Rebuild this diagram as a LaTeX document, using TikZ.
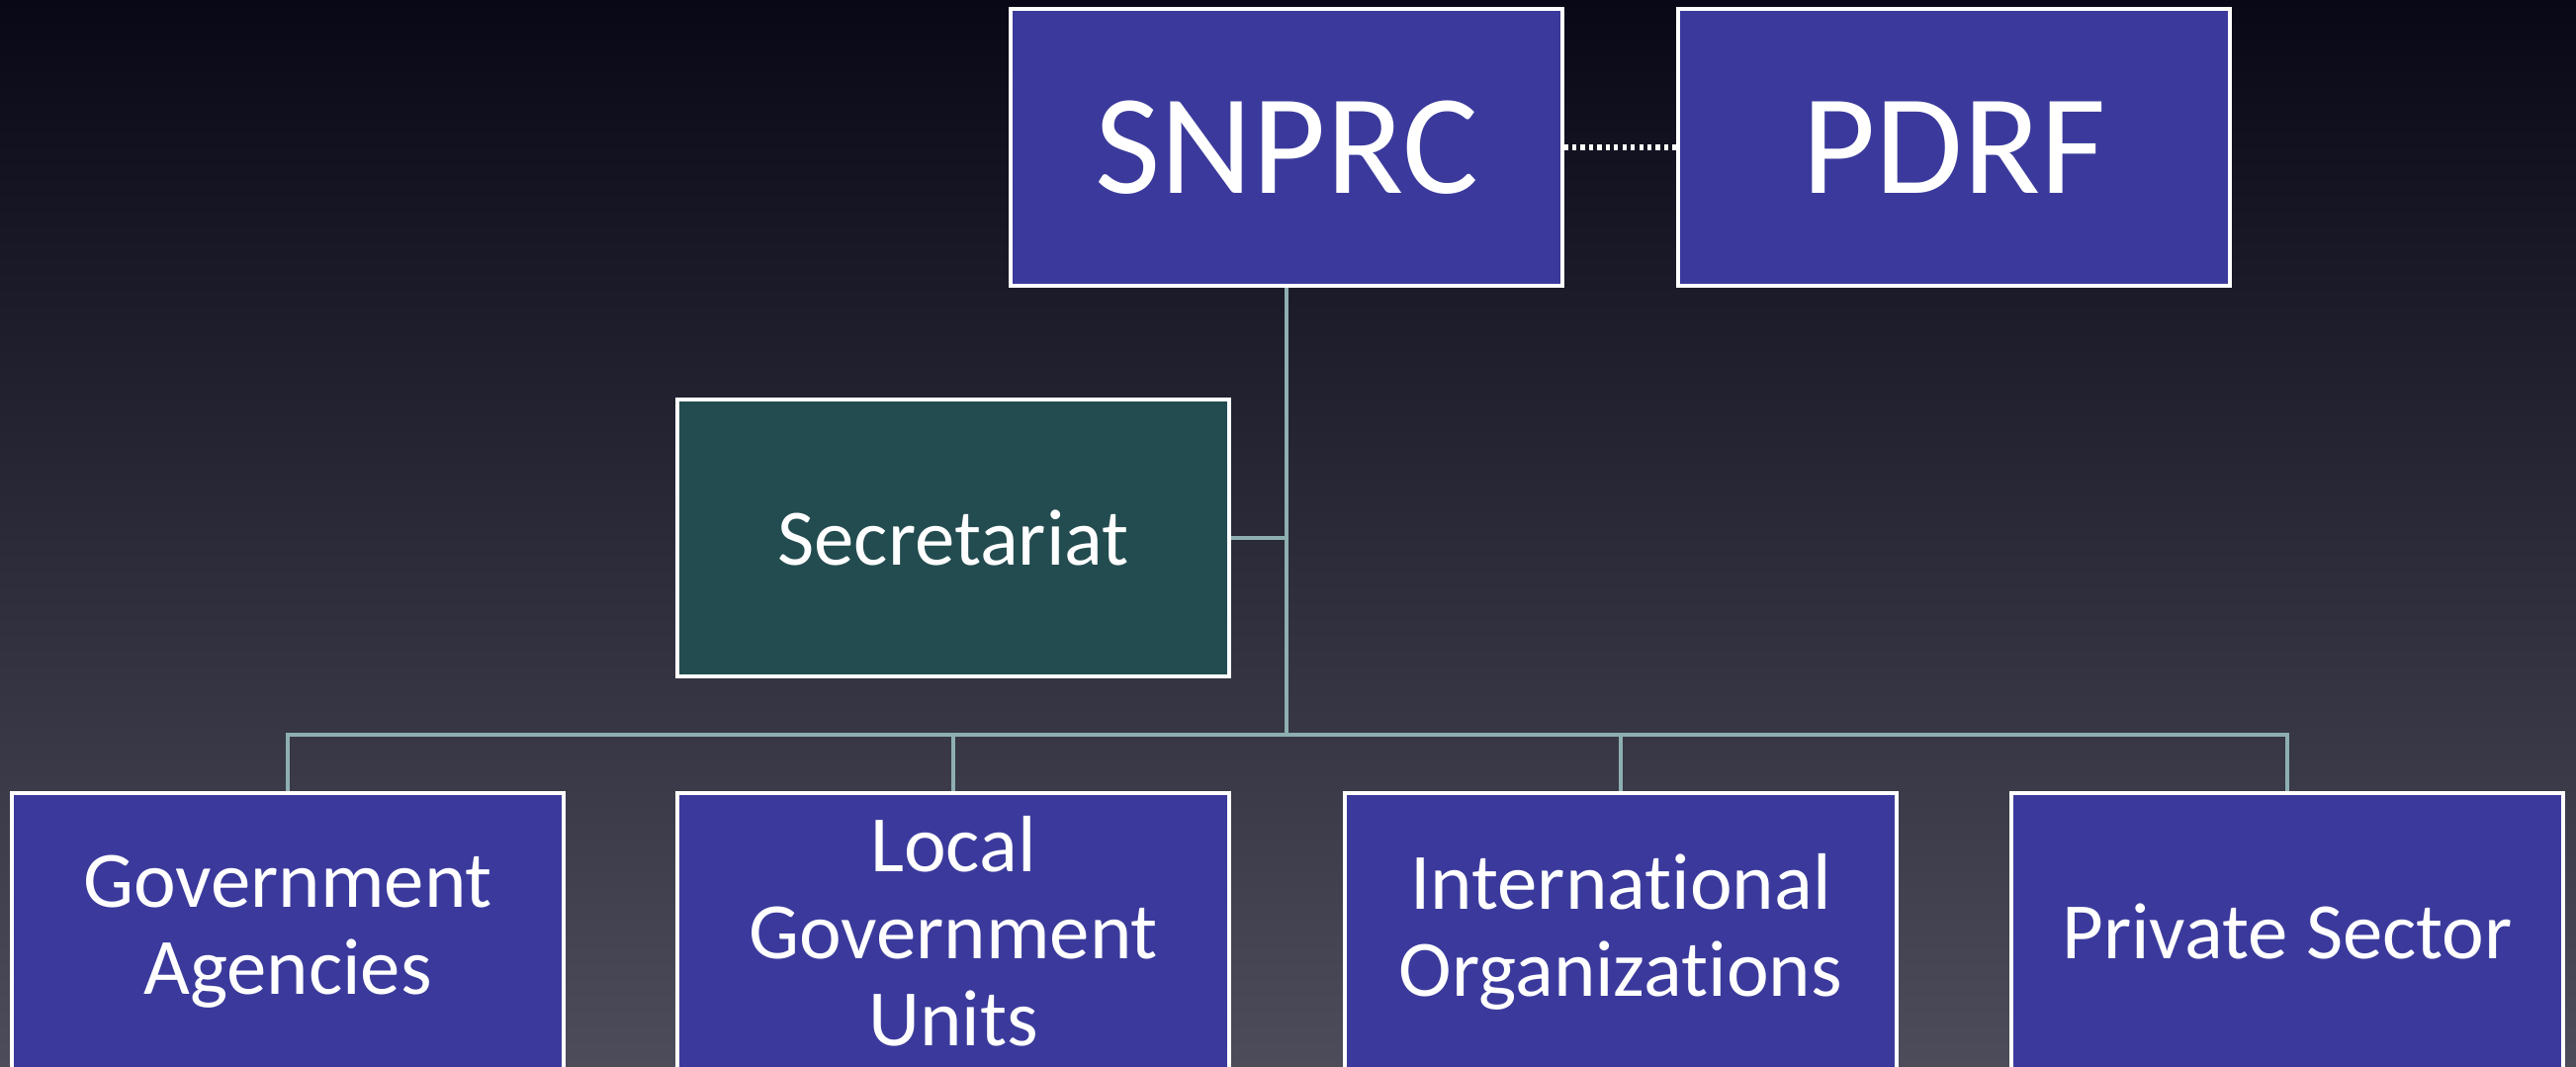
\documentclass[tikz,border=0pt]{standalone}
\usepackage{fontspec}
\setmainfont{Carlito}[Ligatures=NoCommon]
\usepackage{tikz}

\definecolor{boxblue}{RGB}{59,58,156}
\definecolor{boxteal}{RGB}{35,76,80}
\definecolor{linkgray}{RGB}{142,175,176}
\definecolor{bgtop}{RGB}{8,8,22}
\definecolor{bgbottom}{RGB}{76,76,90}

\begin{document}
\begin{tikzpicture}[x=0.01cm,y=-0.01cm]

	\tikzset{unit/.style = {shape=rectangle,draw=white,line width=1.1pt,fill=boxblue,text=white,
		minimum width=5.57cm,minimum height=2.8cm,align=center,inner sep=0pt,
		font=\fontsize{23}{25}\selectfont}}
	\tikzset{link/.style = {draw=linkgray,line width=1.1pt}}

	% background
	\useasboundingbox (0,0) rectangle (2605,1078);
	\clip (0,0) rectangle (2605,1078);
	\shade[top color=bgtop,bottom color=bgbottom] (0,0) rectangle (2605,1078);

	% top level
	\node[unit,font=\fontsize{41}{45}\selectfont] (snprc) at (1301,149) {SNPRC};
	\node[unit,font=\fontsize{41}{45}\selectfont] (pdrf) at (1976,149) {PDRF};
	\node[unit,fill=boxteal] (sec) at (964,544) {Secretariat};

	% members
	\node[unit] (ga) at (291,942) {Government\\Agencies};
	\node[unit] (lgu) at (964,942) {Local\\Government\\Units};
	\node[unit] (io) at (1639,942) {International\\Organizations};
	\node[unit] (ps) at (2313,942) {Private Sector};

	\coordinate (bus) at (1301,743);
	\coordinate (secjoin) at (1301,544);

	\draw[link] (snprc) -- (bus);
	\draw[link] (sec) -- (secjoin);
	\draw[link] (ga.north) |- (bus);
	\draw[link] (ps.north) |- (bus);
	\draw[link] (lgu.north) -- (lgu.north |- bus);
	\draw[link] (io.north) -- (io.north |- bus);

	\draw[white,line width=1.6pt,dash pattern=on 1.2pt off 1.2pt] (snprc) -- (pdrf);
\end{tikzpicture}
\end{document}
